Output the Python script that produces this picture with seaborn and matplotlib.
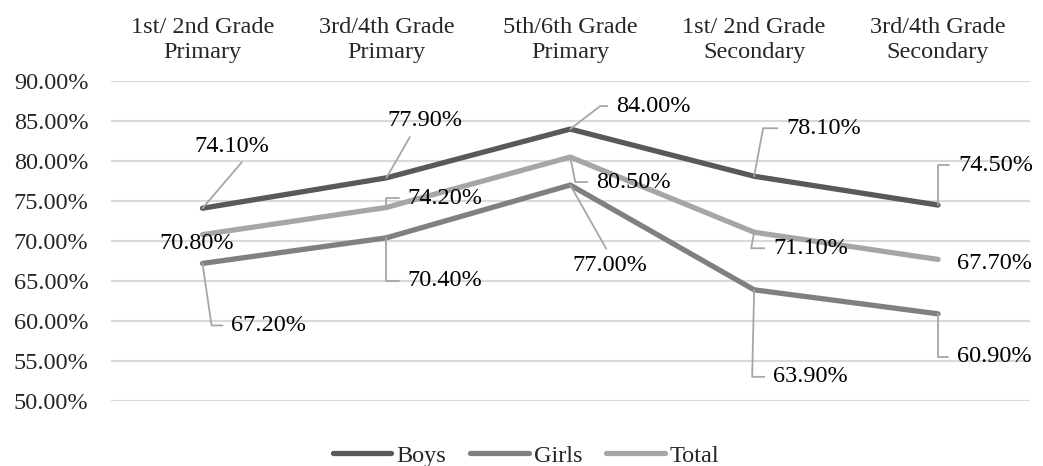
import numpy as np
import pandas as pd
import seaborn as sns
import matplotlib.pyplot as plt

# data
grades = ['1st/ 2nd Grade\nPrimary', '3rd/4th Grade\nPrimary', '5th/6th Grade\nPrimary',
          '1st/ 2nd Grade\nSecondary', '3rd/4th Grade\nSecondary']
boys = [74.1, 77.9, 84.0, 78.1, 74.5]
girls = [67.2, 70.4, 77.0, 63.9, 60.9]
total = [70.8, 74.2, 80.5, 71.1, 67.7]
series_names = ['Boys', 'Girls', 'Total']
colors = ['#595959', '#808080', '#a6a6a6']

# label placement in pixels relative to the point:
# (kind, dx, dy, extra) kind 'stub' -> dx is left edge, extra = elbow dx
#                       'line' -> dx is centre, extra = relpos on text
#                       'none' -> dx is centre, no leader
labels = {
    'Boys': [('line', 29, 62, (0.7, 0)), ('line', 38, 57, (0.35, 0)), ('stub', 46, 23, 30),
             ('stub', 32, 48, 9), ('stub', 20, 40, 0)],
    'Girls': [('stub', 29, -62, 9), ('stub', 21, -43, 0), ('line', 40, -80, (0.49, 1)),
              ('stub', 19, -87, -2), ('stub', 19, -43, 0)],
    'Total': [('none', -6, -9, None), ('stub', 21, 9, 0), ('stub', 26, -25, 5),
              ('stub', 19, -16, -3), ('none', 56, -4, None)],
}

df = pd.DataFrame({
    'x': list(range(len(grades))) * 3,
    'value': boys + girls + total,
    'series': [s for s in series_names for _ in grades],
})

sns.set_theme(style='white')
plt.rcParams['font.family'] = ['Liberation Serif', 'DejaVu Serif']
fs = 17.5

fig = plt.figure(figsize=(10.43, 4.66), dpi=100)
ax = fig.add_axes([0.106, 0.1395, 0.8815, 0.6865])

sns.lineplot(data=df, x='x', y='value', hue='series', palette=colors,
             linewidth=3.8, ax=ax, solid_capstyle='round', legend=True)

ax.set_xlim(-0.5, len(grades) - 0.5)
ax.set_ylim(50, 90)
yt = np.arange(50, 90.1, 5)
ax.set_yticks(yt)
ax.set_yticklabels([f'{v:.2f}%' for v in yt], fontsize=fs)
ax.set_xticks(range(len(grades)))
ax.set_xticklabels(grades, fontsize=fs, linespacing=1.27)
ax.xaxis.tick_top()
ax.tick_params(axis='y', length=0, pad=16)
ax.tick_params(axis='x', length=0, pad=13)
ax.set_xlabel('')
ax.set_ylabel('')
ax.grid(axis='y', color='#d9d9d9', linewidth=1.5)
ax.set_axisbelow(True)
for sp in ax.spines.values():
    sp.set_visible(False)

leader = '#a6a6a6'
for name, vals in zip(series_names, [boys, girls, total]):
    for i, v in enumerate(vals):
        kind, dx, dy, extra = labels[name][i]
        txt = f'{v:.2f}%'
        if kind == 'stub':
            angB = np.degrees(np.arctan2(dy, extra))
            ax.annotate(txt, xy=(i, v), xytext=(dx, dy), textcoords='offset pixels',
                        ha='left', va='center', fontsize=fs, color='black',
                        arrowprops=dict(arrowstyle='-', color=leader, lw=1.3,
                                        shrinkA=4, shrinkB=0, relpos=(0, 0.5),
                                        connectionstyle=f'angle,angleA=0,angleB={angB:.1f},rad=0'))
        elif kind == 'line':
            ax.annotate(txt, xy=(i, v), xytext=(dx, dy), textcoords='offset pixels',
                        ha='center', va='center', fontsize=fs, color='black',
                        arrowprops=dict(arrowstyle='-', color=leader, lw=1.3,
                                        shrinkA=2, shrinkB=0, relpos=extra))
        else:
            ax.annotate(txt, xy=(i, v), xytext=(dx, dy), textcoords='offset pixels',
                        ha='center', va='center', fontsize=fs, color='black')

leg = ax.legend(loc='upper center', bbox_to_anchor=(0.452, -0.068), ncol=3, frameon=False,
                fontsize=fs, handlelength=2.4, handletextpad=0.2, columnspacing=1.0)
for line in leg.get_lines():
    line.set_linewidth(3.8)
    line.set_solid_capstyle('round')

fig.savefig('out.png', dpi=100)
